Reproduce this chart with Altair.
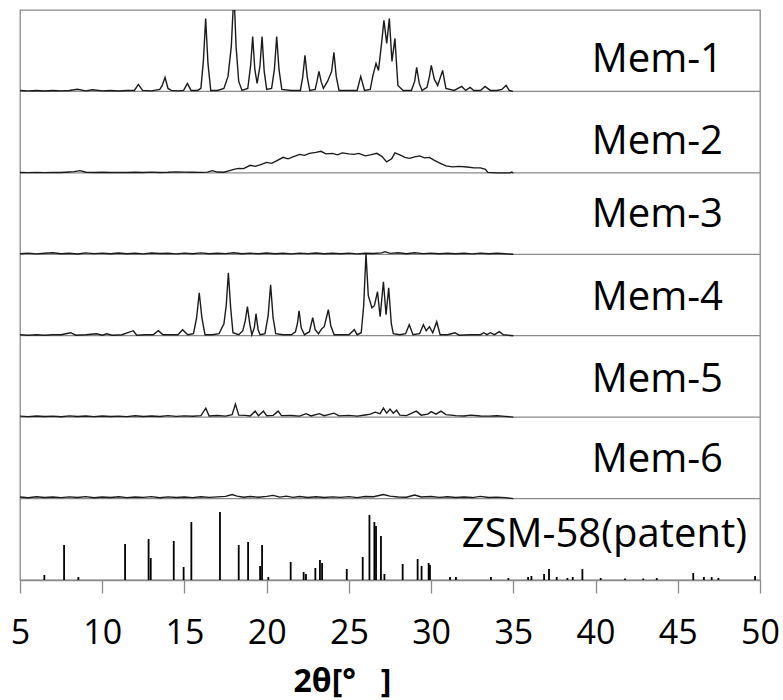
import altair as alt
import pandas as pd

samples = ["Mem-1", "Mem-2", "Mem-3", "Mem-4", "Mem-5", "Mem-6", "ZSM-58(patent)"]

# (2theta, relative intensity) pairs
mem1 = [(5.0,1.0),(5.5,0.6),(6.0,1.0),(6.5,0.5),(7.0,1.0),(7.5,0.6),(8.0,1.0),(8.5,2.2),(9.0,0.6),(9.4,1.6),
        (10.0,0.6),(10.5,1.0),(11.0,0.5),(11.5,1.0),(11.95,1.0),(12.2,7.0),(12.45,1.0),(13.0,0.6),(13.5,2.0),
        (13.65,6.0),(13.82,14.0),(14.0,3.0),(14.2,1.0),(14.6,0.6),(14.95,1.0),(15.18,8.0),(15.4,1.0),(15.8,1.0),
        (16.0,3.0),(16.15,30.0),(16.29,73.0),(16.43,28.0),(16.6,1.0),(17.0,1.0),(17.4,3.0),(17.65,15.0),
        (17.85,45.0),(18.01,100.0),(18.14,45.0),(18.3,10.0),(18.5,1.0),(18.85,3.0),(19.02,25.0),(19.15,55.0),
        (19.28,22.0),(19.42,8.0),(19.59,25.0),(19.72,55.0),(19.85,20.0),(20.0,2.0),(20.3,3.0),(20.47,22.0),
        (20.61,55.0),(20.75,22.0),(20.92,2.0),(21.5,1.0),(22.05,1.0),(22.19,14.0),(22.33,36.0),(22.47,14.0),
        (22.62,1.0),(22.95,2.0),(23.06,10.0),(23.18,20.0),(23.31,10.0),(23.45,3.0),(23.7,10.0),(23.95,20.0),
        (24.09,39.0),(24.23,15.0),(24.4,1.0),(25.0,1.0),(25.5,1.0),(25.72,15.0),(25.95,1.0),(26.3,2.0),
        (26.45,15.0),(26.65,28.0),(26.8,21.0),(27.0,50.0),(27.13,71.0),(27.3,48.0),(27.46,73.0),(27.62,30.0),
        (27.8,53.0),(27.98,6.0),(28.3,1.0),(28.8,1.0),(29.0,10.0),(29.12,24.0),(29.28,8.0),(29.45,1.0),
        (29.75,4.0),(29.9,15.0),(30.01,26.0),(30.2,12.0),(30.4,6.0),(30.7,21.0),(30.9,3.0),(31.4,1.0),
        (31.86,5.0),(32.1,1.0),(32.37,4.0),(32.6,1.0),(33.0,1.0),(33.28,5.0),(33.6,1.0),(34.0,1.0),(34.3,2.0),
        (34.56,6.0),(34.75,1.0),(34.98,0.0)]

mem2 = [(5.0,0.3),(5.5,0.2),(6.0,0.4),(6.5,0.2),(7.0,0.5),(7.5,0.3),(8.0,0.8),(8.3,1.2),(8.65,2.2),(9.0,0.6),
        (9.5,0.3),(10.0,0.6),(10.5,0.3),(11.0,0.5),(11.5,0.4),(12.0,0.6),(12.5,0.3),(13.0,0.7),(13.5,0.4),
        (14.0,0.6),(14.5,1.0),(15.0,0.7),(15.5,0.6),(16.0,0.5),(16.4,0.7),(16.7,2.2),(17.0,0.8),(17.4,0.6),
        (17.7,2.0),(18.0,3.5),(18.3,4.5),(18.6,4.2),(19.0,7.5),(19.3,6.5),(19.6,8.0),(20.0,10.5),(20.3,9.5),
        (20.6,12.0),(21.0,15.5),(21.3,14.0),(21.6,16.0),(22.0,18.5),(22.3,17.5),(22.6,19.5),(23.0,20.5),
        (23.3,21.5),(23.6,19.0),(24.0,19.5),(24.3,18.0),(24.6,20.0),(25.0,19.0),(25.3,18.5),(25.6,19.5),
        (26.0,17.0),(26.3,18.0),(26.7,19.5),(27.0,16.5),(27.3,11.0),(27.6,14.0),(27.8,20.0),(28.1,18.0),
        (28.4,15.5),(28.7,14.5),(29.0,16.0),(29.3,17.0),(29.6,15.0),(29.9,15.5),(30.2,12.5),(30.5,10.0),
        (30.9,7.0),(31.3,6.0),(31.7,6.5),(32.2,5.8),(32.6,5.0),(33.0,5.0),(33.3,3.5),(33.45,0.5),(34.0,0.0),
        (34.8,0.0),(34.9,0.8),(35.0,0.0)]

mem3 = [(5.0,0.5),(5.5,1.2),(6.0,0.4),(6.5,1.0),(7.0,1.5),(7.5,0.6),(8.0,1.1),(8.5,0.3),(9.0,1.4),(9.5,0.7),
        (10.0,1.2),(10.5,0.5),(11.0,1.3),(11.5,0.6),(12.0,1.0),(12.5,0.4),(13.0,1.3),(13.5,0.8),(14.0,1.1),
        (14.5,0.4),(15.0,1.2),(15.5,0.6),(16.0,1.4),(16.5,0.5),(17.0,1.0),(17.5,0.7),(18.0,1.6),(18.5,0.6),
        (19.0,1.2),(19.5,0.5),(20.0,1.3),(20.5,0.6),(21.0,1.1),(21.5,0.4),(22.0,1.2),(22.5,0.7),(23.0,1.3),
        (23.5,0.5),(24.0,1.0),(24.5,0.6),(25.0,1.2),(25.5,0.4),(26.0,1.1),(26.5,0.8),(27.0,1.4),(27.2,2.6),
        (27.5,0.9),(28.0,1.6),(28.5,0.6),(29.0,1.5),(29.5,0.7),(30.0,1.2),(30.5,0.5),(31.0,1.1),(31.5,0.6),
        (32.0,1.0),(32.5,0.4),(33.0,1.2),(33.5,0.6),(34.0,1.0),(34.5,0.5),(35.0,0.0)]

mem4 = [(5.0,1.0),(5.5,0.5),(6.0,1.0),(6.5,0.5),(7.0,1.0),(7.5,1.0),(8.08,3.0),(8.4,0.5),(9.0,1.0),(9.66,2.0),
        (10.0,0.5),(10.27,2.0),(10.6,0.5),(11.2,1.0),(11.89,5.0),(12.1,0.5),(12.6,1.0),(13.1,1.0),(13.41,5.0),
        (13.7,1.0),(14.2,1.0),(14.6,1.0),(14.89,6.0),(15.2,1.0),(15.55,2.0),(15.74,18.0),(15.9,43.0),
        (16.06,18.0),(16.25,1.0),(16.7,1.0),(17.1,2.0),(17.4,12.0),(17.54,30.0),(17.67,63.0),(17.81,28.0),
        (17.95,3.0),(18.3,1.0),(18.55,5.0),(18.7,15.0),(18.83,29.0),(18.97,12.0),(19.1,1.0),(19.25,8.0),
        (19.35,22.0),(19.48,6.0),(19.6,1.0),(19.9,2.0),(20.09,20.0),(20.24,51.0),(20.39,18.0),(20.55,2.0),
        (21.0,1.0),(21.5,1.0),(21.75,4.0),(21.87,12.0),(21.97,25.0),(22.1,8.0),(22.3,1.0),(22.6,4.0),
        (22.8,18.0),(22.95,6.0),(23.15,2.0),(23.35,7.0),(23.5,9.0),(23.75,26.0),(23.9,10.0),(24.1,1.0),
        (24.6,1.0),(25.0,1.0),(25.33,6.0),(25.5,1.0),(25.75,3.0),(25.9,30.0),(26.04,82.0),(26.18,40.0),
        (26.4,28.0),(26.55,30.0),(26.74,44.0),(26.9,19.0),(27.1,54.0),(27.26,21.0),(27.42,48.0),(27.58,12.0),
        (27.7,2.0),(28.1,1.0),(28.45,2.0),(28.67,11.0),(28.9,1.0),(29.3,2.0),(29.53,11.0),(29.7,5.0),
        (29.9,9.0),(30.1,3.0),(30.34,14.0),(30.55,1.0),(31.0,1.0),(31.45,3.0),(31.7,0.5),(32.4,1.0),(33.0,1.0),
        (33.2,3.0),(33.4,1.0),(33.6,3.0),(33.85,1.0),(34.15,4.0),(34.4,1.0),(35.0,0.0)]

mem5 = [(5.0,1.0),(5.5,0.5),(6.0,1.2),(6.5,0.6),(7.0,1.0),(7.5,0.4),(8.0,1.3),(8.5,0.6),(9.0,1.1),(9.5,0.5),
        (10.0,1.2),(10.5,0.6),(11.0,1.0),(11.5,0.5),(12.0,1.4),(12.5,0.7),(13.0,1.2),(13.5,0.6),(14.0,1.5),
        (14.5,0.8),(15.0,1.3),(15.5,0.9),(16.0,1.5),(16.3,9.0),(16.5,1.2),(17.0,1.6),(17.5,1.0),(17.9,2.5),
        (18.1,13.0),(18.3,2.0),(18.7,1.8),(19.0,1.2),(19.3,6.0),(19.5,1.5),(19.8,6.0),(20.0,1.4),(20.4,1.8),
        (20.7,6.0),(20.9,1.5),(21.5,1.6),(22.0,1.0),(22.4,3.5),(22.7,1.2),(23.2,3.5),(23.5,1.4),(24.1,4.0),
        (24.4,1.3),(25.0,1.8),(25.5,1.0),(26.0,2.2),(26.3,3.0),(26.6,5.0),(26.9,3.5),(27.1,9.0),(27.3,4.0),
        (27.5,8.0),(27.7,4.0),(27.9,7.0),(28.1,2.0),(28.5,1.5),(29.1,6.0),(29.4,2.0),(29.8,3.0),(30.0,5.5),
        (30.3,3.0),(30.6,6.0),(30.9,2.5),(31.5,1.5),(32.0,1.2),(32.4,2.0),(33.0,1.2),(33.5,1.0),(34.0,1.4),
        (34.5,0.8),(35.0,0.0)]

mem6 = [(5.0,1.5),(5.5,0.8),(6.0,1.8),(6.5,1.0),(7.0,1.6),(7.5,0.9),(8.0,1.7),(8.5,1.1),(9.0,1.9),(9.5,0.8),
        (10.0,1.5),(10.5,1.0),(11.0,1.8),(11.5,0.9),(12.0,1.6),(12.5,1.2),(13.0,1.9),(13.5,0.8),(14.0,1.7),
        (14.5,1.1),(15.0,1.5),(15.5,0.9),(16.0,1.8),(16.5,1.2),(17.0,1.7),(17.5,2.2),(17.9,4.0),(18.2,2.5),
        (18.6,1.4),(19.0,2.0),(19.5,1.3),(20.0,2.2),(20.4,3.2),(20.8,1.5),(21.2,2.4),(21.6,1.2),(22.0,2.0),
        (22.5,1.1),(23.0,1.8),(23.5,1.0),(24.0,1.7),(24.5,1.2),(25.0,1.9),(25.5,1.0),(26.0,2.0),(26.5,1.8),
        (27.1,4.0),(27.5,2.5),(28.0,1.6),(28.5,1.3),(29.0,3.5),(29.4,1.6),(30.0,2.0),(30.5,1.2),(31.0,1.8),
        (31.5,1.1),(32.0,1.6),(32.5,1.0),(33.0,2.2),(33.5,1.1),(34.0,1.4),(34.5,0.9),(35.0,0.0)]

# ZSM-58 reference pattern (stick positions and heights)
zsm_pos = [6.48,7.68,8.55,11.39,12.82,12.95,14.35,14.95,15.42,17.16,18.30,18.87,19.60,19.72,20.10,21.46,22.25,
           22.39,22.96,23.24,23.37,24.87,25.84,26.25,26.55,26.65,26.95,27.16,28.27,29.18,29.42,29.85,29.93,
           31.15,31.51,33.64,34.70,35.90,36.10,36.87,37.17,37.64,38.29,38.61,39.20,40.31,41.79,42.90,43.72,
           45.94,46.59,47.06,47.47,49.70]
zsm_int = [5,35,3,36,41,22,39,13,58,68,35,38,14,35,3,18,8,6,12,20,17,11,23,65,58,54,44,6,16,21,14,17,15,
           3,3,3,2,3,4,6,11,3,2,3,11,2,1.5,1.5,2,7,3,3,2,4]

x_ticks = [5, 10, 15, 20, 25, 30, 35, 40, 45, 50]

# ---------------------------------------------------------------------------
N = len(samples)
PANEL = 570 / N          # intensity units per stacked panel
TOP = N * PANEL

rows = []
for i, pts in enumerate([mem1, mem2, mem3, mem4, mem5, mem6]):
    base = (N - 1 - i) * PANEL
    for x, h in pts:
        rows.append({"sample": samples[i], "two_theta": x, "y": base + h})
df_lines = pd.DataFrame(rows)

df_sticks = pd.DataFrame({"two_theta": zsm_pos, "y0": 0.0, "y1": zsm_int})
df_sep = pd.DataFrame({"y": [k * PANEL for k in range(1, N)]})

label_dy = [19, 19, 27, 26, 25, 27, 33]
label_x = [703, 703, 703, 703, 703, 703, 727]
df_lab = pd.DataFrame({
    "sample": samples,
    "y": [(N - 1 - i) * PANEL + label_dy[i] for i in range(N)],
})

xscale = alt.Scale(domain=[5, 50], nice=False, zero=False)
yscale = alt.Scale(domain=[0, TOP], nice=False, zero=True)

xaxis = alt.Axis(
    values=x_ticks, format="d", grid=False,
    domainColor="#8a8a8a", domainWidth=1.3,
    tickColor="#8a8a8a", tickWidth=1.3, tickSize=13,
    labelFont="Open Sans", labelFontSize=34, labelColor="#000000", labelPadding=23,
    labelFlush=False, labelOverlap=False,
    title="2θ[°\u00a0\u00a0\u00a0]", titleFont="Open Sans", titleFontSize=32, titleFontWeight="bold",
    titleColor="#000000", titleX=322, titleY=111, titleBaseline="alphabetic", titleAlign="center",
)

sep = alt.Chart(df_sep).mark_rule(color="#8a8a8a", strokeWidth=1.3).encode(
    y=alt.Y("y:Q", scale=yscale, axis=None),
    x=alt.value(0), x2=alt.value(740),
)

lines = alt.Chart(df_lines).mark_line(color="#1a1a1a", strokeWidth=1.4, clip=True).encode(
    x=alt.X("two_theta:Q", scale=xscale, axis=xaxis),
    y=alt.Y("y:Q", scale=yscale, axis=None),
    detail="sample:N",
)

sticks = alt.Chart(df_sticks).mark_rule(color="#000000", strokeWidth=1.8).encode(
    x=alt.X("two_theta:Q", scale=xscale, axis=xaxis),
    y=alt.Y("y0:Q", scale=yscale, axis=None),
    y2="y1:Q",
)

label_layers = []
for i, name in enumerate(samples):
    label_layers.append(
        alt.Chart(df_lab[df_lab["sample"] == name]).mark_text(
            align="right", baseline="alphabetic", font="Open Sans", fontSize=40, color="#000000"
        ).encode(
            x=alt.value(label_x[i]),
            y=alt.Y("y:Q", scale=yscale, axis=None),
            text="sample:N",
        )
    )

chart = alt.layer(sep, lines, sticks, *label_layers).properties(
    width=740, height=570,
    autosize=alt.AutoSizeParams(type="none"),
    padding={"left": 20, "top": 10, "right": 23, "bottom": 120},
).configure_view(stroke="#8a8a8a", strokeWidth=1.3)

chart.save("out.html", embed_options={"renderer": "svg", "actions": False})
